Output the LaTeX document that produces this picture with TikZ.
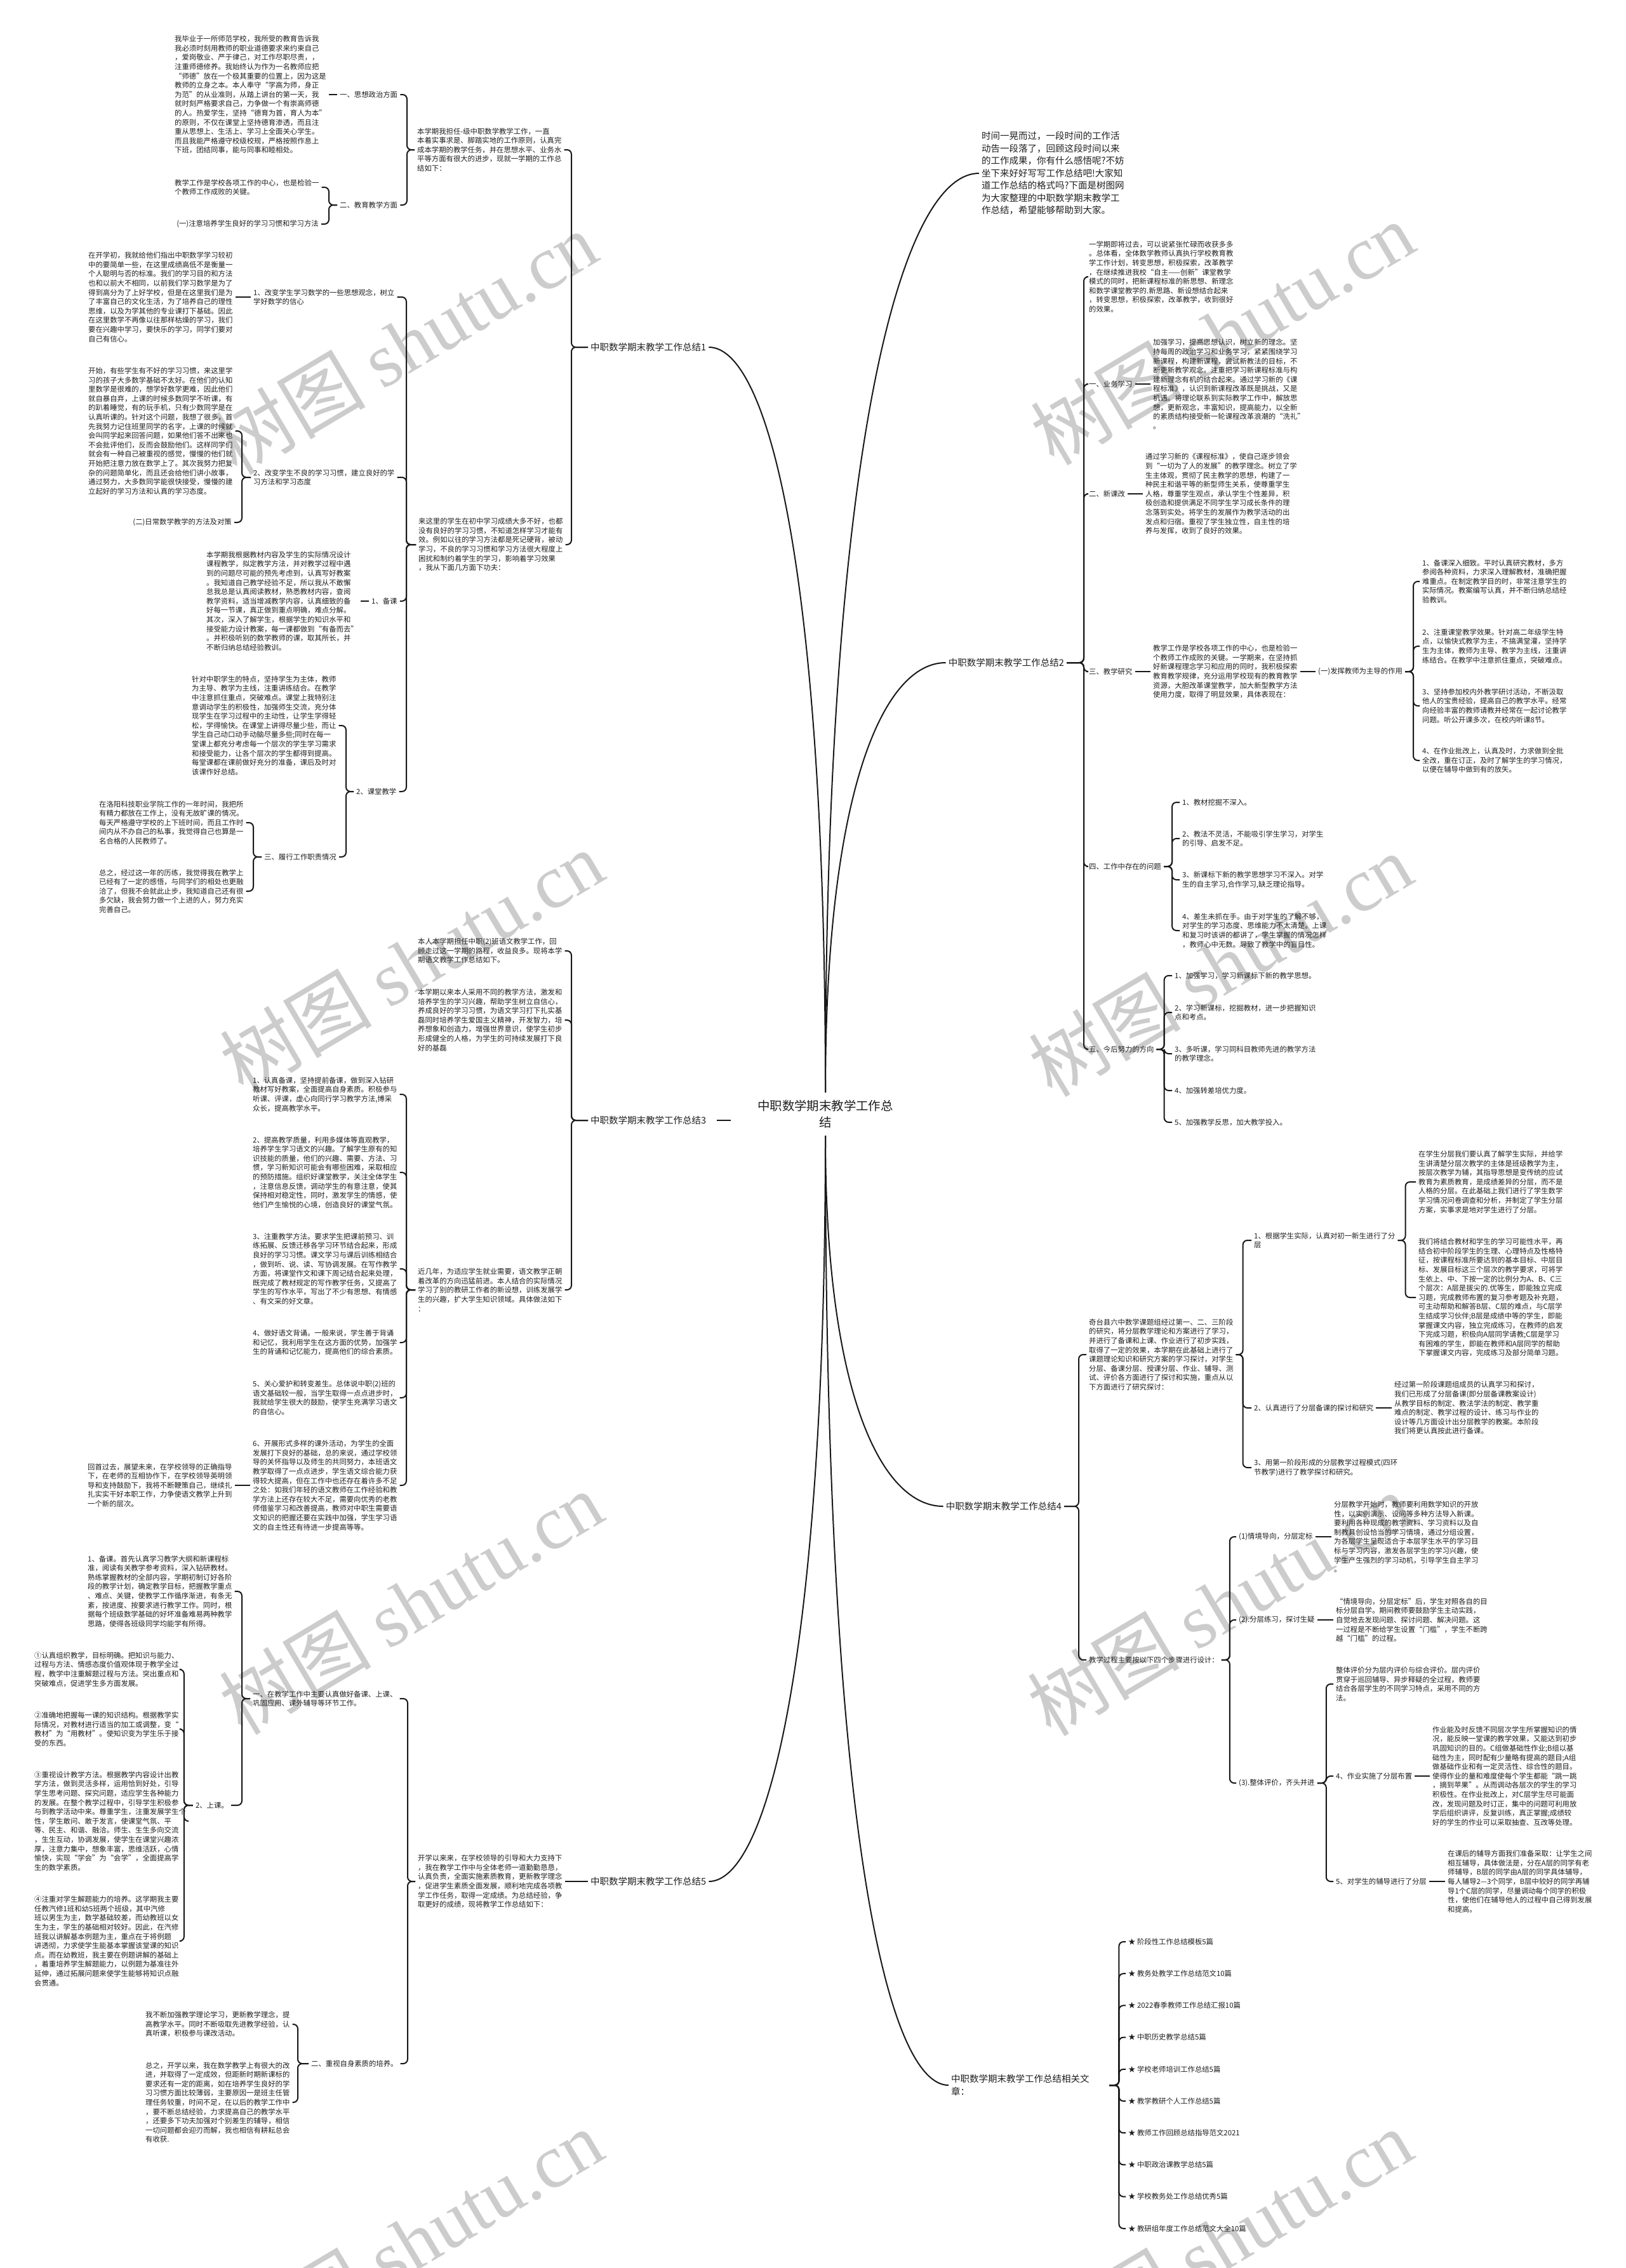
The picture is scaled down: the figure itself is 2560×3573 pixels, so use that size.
\documentclass[tikz,border=0pt]{standalone}
\usepackage{fontspec}
\setmainfont{Noto Sans CJK SC}
\newfontfamily\wmlat{Liberation Serif}
\newcommand\bodyf{\fontsize{11.36}{14.6}\selectfont}
\newcommand\labf{\fontsize{14.5}{19.5}\selectfont}
\newcommand\rootf{\fontsize{19.4}{25.6}\selectfont}
\newcommand\wmf{\fontsize{120}{120}\selectfont}
\newcommand\qL{\makebox[1em][r]{“}}
\newcommand\qR{\makebox[1em][l]{”}}
\tikzset{
  body/.style={font=\bodyf, align=left, inner xsep=4pt, inner ysep=1pt, text=black!88, anchor=west},
  lab/.style={font=\labf, align=left, inner xsep=4pt, inner ysep=1pt, text=black!88, anchor=west},
  conn/.style={draw=black!90, line width=2pt, rounded corners=7pt},
  curve/.style={draw=black!90, line width=2pt},
  wm/.style={text=black!20, rotate=30.7, inner sep=0pt},
}
\begin{document}
\begin{tikzpicture}[x=1pt,y=-1pt]
\fill[white] (0,0) rectangle (2560,3573);
\useasboundingbox (0,0) rectangle (2560,3573);
% watermarks
\foreach \wx/\wy [count=\i] in {638/540,1925/525,648/1515,1922/1520,647/2525,1920/2527,647/3530,1922/3530}
  \node[wm] (wm\i) at (\wx,\wy) {\wmf 树图 {\wmlat shutu.cn}};

% root
\node[font=\rootf, align=center, inner xsep=4pt, inner ysep=12pt, text=black!88] (root) at (1300,1755) {中职数学期末教学工作总\\结};

% ================= branch 1 =================
\node[lab] (b1) at (926,547) {中职数学期末教学工作总结1};
\node[body] (P1) at (653,236) {本学期我担任-级中职数学教学工作，一直\\本着实事求是、脚踏实地的工作原则，认真完\\成本学期的教学任务，并在思想水平、业务水\\平等方面有很大的进步，现就一学期的工作总\\结如下：};
\node[body] (L1a) at (531,149) {一、思想政治方面};
\node[body] (L1b) at (531,323) {二、教育教学方面};
\node[body] (P1a) at (271,149) {我毕业于一所师范学校，我所受的教育告诉我\\我必须时刻用教师的职业道德要求来约束自己\\，爱岗敬业、严于律己，对工作尽职尽责，，\\注重师德修养。我始终认为作为一名教师应把\\\qL 师德\qR 放在一个极其重要的位置上，因为这是\\教师的立身之本。本人奉守\qL 学高为师，身正\\为范\qR 的从业准则，从踏上讲台的第一天，我\\就时刻严格要求自己，力争做一个有崇高师德\\的人。热爱学生，坚持\qL 德育为首，育人为本\qR\\的原则，不仅在课堂上坚持德育渗透，而且注\\重从思想上、生活上、学习上全面关心学生。\\而且我能严格遵守校级校规，严格按照作息上\\下班，团结同事，能与同事和睦相处。};
\node[body] (P1b) at (271,295) {教学工作是学校各项工作的中心，也是检验一\\个教师工作成败的关键。};
\node[body,anchor=east] (L1c) at (506,353) {(一)注意培养学生良好的学习习惯和学习方法};
\node[body] (P2) at (655,858) {来这里的学生在初中学习成绩大多不好，也都\\没有良好的学习习惯，不知道怎样学习才能有\\效。例如以往的学习方法都是死记硬背，被动\\学习，不良的学习习惯和学习方法很大程度上\\困扰和制约着学生的学习，影响着学习效果\\，我从下面几方面下功夫：};
\node[body] (C21) at (395,468) {1、改变学生学习数学的一些思想观念，树立\\学好数学的信心};
\node[body] (C22) at (395,752) {2、改变学生不良的学习习惯，建立良好的学\\习方法和学习态度};
\node[body] (C23) at (581,947) {1、备课};
\node[body] (C24) at (557,1247) {2、课堂教学};
\node[body] (P21) at (135,468) {在开学初，我就给他们指出中职数学学习较初\\中的要简单一些，在这里成绩高低不是衡量一\\个人聪明与否的标准。我们的学习目的和方法\\也和以前大不相同，以前我们学习数学是为了\\得到高分为了上好学校，但是在这里我们是为\\了丰富自己的文化生活，为了培养自己的理性\\思维，以及为学其他的专业课打下基础。因此\\在这里数学不再像以往那样枯燥的学习，我们\\要在兴趣中学习，要快乐的学习，同学们要对\\自己有信心。};
\node[body] (P22) at (135,679) {开始，有些学生有不好的学习习惯，来这里学\\习的孩子大多数学基础不太好。在他们的认知\\里数学是很难的，想学好数学更难，因此他们\\就自暴自弃，上课的时候多数同学不听课，有\\的趴着睡觉，有的玩手机，只有少数同学是在\\认真听课的。针对这个问题，我想了很多，首\\先我努力记住班里同学的名字，上课的时候就\\会叫同学起来回答问题，如果他们答不出来也\\不会批评他们，反而会鼓励他们。这样同学们\\就会有一种自己被重视的感觉，慢慢的他们就\\开始把注意力放在数学上了。其次我努力把复\\杂的问题简单化，而且还会给他们讲小故事，\\通过努力，大多数同学能很快接受，慢慢的建\\立起好的学习方法和认真的学习态度。};
\node[body,anchor=east] (C25) at (369,823) {(二)日常数学教学的方法及对策};
\node[body] (P23) at (321,947) {本学期我根据教材内容及学生的实际情况设计\\课程教学，拟定教学方法，并对教学过程中遇\\到的问题尽可能的预先考虑到，认真写好教案\\。我知道自己教学经验不足，所以我从不敢懈\\怠我总是认真阅读教材，熟悉教材内容，查阅\\教学资料，适当增减教学内容，认真细致的备\\好每一节课，真正做到重点明确，难点分解。\\其次，深入了解学生，根据学生的知识水平和\\接受能力设计教案，每一课都做到\qL 有备而去\qR\\。并积极听别的数学教师的课，取其所长，并\\不断归纳总结经验教训。};
\node[body] (P24) at (298,1143) {针对中职学生的特点，坚持学生为主体，教师\\为主导、教学为主线，注重讲练结合。在教学\\中注意抓住重点，突破难点。课堂上我特别注\\意调动学生的积极性，加强师生交流，充分体\\现学生在学习过程中的主动性，让学生学得轻\\松，学得愉快。在课堂上讲得尽量少些，而让\\学生自己动口动手动脑尽量多些;同时在每一\\堂课上都充分考虑每一个层次的学生学习需求\\和接受能力，让各个层次的学生都得到提高。\\每堂课都在课前做好充分的准备，课后及时对\\该课作好总结。};
\node[body,anchor=east] (C26) at (534,1350) {三、履行工作职责情况};
\node[body] (P26a) at (152,1296) {在洛阳科技职业学院工作的一年时间，我把所\\有精力都放在工作上，没有无故旷课的情况。\\每天严格遵守学校的上下班时间，而且工作时\\间内从不办自己的私事，我觉得自己也算是一\\名合格的人民教师了。};
\node[body] (P26b) at (152,1404) {总之，经过这一年的历练，我觉得我在教学上\\已经有了一定的感悟，与同学们的相处也更融\\洽了，但我不会就此止步，我知道自己还有很\\多欠缺，我会努力做一个上进的人，努力充实\\完善自己。};

\foreach \c in {P1,P2} \draw[conn] (b1.west) -- ++(-26,0) |- (\c.east);
\foreach \c in {L1a,L1b} \draw[conn] (P1.west) -- ++(-12,0) |- (\c.east);
\draw[conn] (L1a.west) -- (P1a.east);
\foreach \c in {P1b,L1c} \draw[conn] (L1b.west) -- ++(-13,0) |- (\c.east);
\foreach \c in {C21,C22,C23,C24} \draw[conn] (P2.west) -- ++(-15,0) |- (\c.east);
\draw[conn] (C21.west) -- (P21.east);
\foreach \c in {P22,C25} \draw[conn] (C22.west) -- ++(-14,0) |- (\c.east);
\draw[conn] (C23.west) -- (P23.east);
\foreach \c in {P24,C26} \draw[conn] (C24.west) -- ++(-12,0) |- (\c.east);
\foreach \c in {P26a,P26b} \draw[conn] (C26.west) -- ++(-13,0) |- (\c.east);

% ================= branch 3 =================
\node[lab] (b3) at (926,1765) {中职数学期末教学工作总结3};
\node[body] (P3a) at (654,1498) {本人本学期担任中职(2)班语文教学工作，回\\顾走过这一学期的路程，收益良多。现将本学\\期语文教学工作总结如下。};
\node[body] (P3b) at (654,1607) {本学期以来本人采用不同的教学方法，激发和\\培养学生的学习兴趣，帮助学生树立自信心，\\养成良好的学习习惯，为语文学习打下扎实基\\磊同时培养学生爱国主义精神，开发智力，培\\养想象和创造力，增强世界意识，使学生初步\\形成健全的人格，为学生的可持续发展打下良\\好的基磊};
\node[body] (P3c) at (654,2032) {近几年，为适应学生就业需要，语文教学正朝\\着改革的方向迅猛前进。本人结合的实际情况\\学习了别的教研工作者的新设想，训练发展学\\生的兴趣，扩大学生知识领域。具体做法如下\\：};
\node[body] (I31) at (394,1724) {1、认真备课，坚持提前备课，做到深入钻研\\教材写好教案，全面提高自身素质。积极参与\\听课、评课，虚心向同行学习教学方法,博采\\众长，提高教学水平。};
\node[body] (I32) at (394,1847) {2、提高教学质量，利用多媒体等直观教学，\\培养学生学习语文的兴趣。了解学生原有的知\\识技能的质量，他们的兴趣、需要、方法、习\\惯，学习新知识可能会有哪些困难，采取相应\\的预防措施。组织好课堂教学，关注全体学生\\，注意信息反馈，调动学生的有意注意，使其\\保持相对稳定性，同时，激发学生的情感，使\\他们产生愉悦的心境，创造良好的课堂气氛。};
\node[body] (I33) at (394,1999) {3、注重教学方法。要求学生把课前预习、训\\练拓展、反馈迁移各学习环节结合起来，形成\\良好的学习习惯。课文学习与课后训练相结合\\，做到听、说、读、写协调发展。在写作教学\\方面，将课堂作文和课下周记结合起来处理，\\既完成了教材规定的写作教学任务，又提高了\\学生的写作水平，写出了不少有思想、有情感\\、有文采的好文章。};
\node[body] (I34) at (394,2115) {4、做好语文背诵。一般来说，学生善于背诵\\和记忆，我利用学生在这方面的优势，加强学\\生的背诵和记忆能力，提高他们的综合素质。};
\node[body] (I35) at (394,2202) {5、关心爱护和转变差生。总体说中职(2)班的\\语文基础较一般，当学生取得一点点进步时，\\我就给学生很大的鼓励，使学生充满学习语文\\的自信心。};
\node[body] (I36) at (394,2340) {6、开展形式多样的课外活动，为学生的全面\\发展打下良好的基础，总的来说，通过学校领\\导的关怀指导以及师生的共同努力，本班语文\\教学取得了一点点进步，学生语文综合能力获\\得较大提高，但在工作中也还存在着许多不足\\之处：如我们年轻的语文教师在工作经验和教\\学方法上还存在较大不足，需要向优秀的老教\\师借鉴学习和改善提高，教师对中职生需要语\\文知识的把握还要在实践中加强，学生学习语\\文的自主性还有待进一步提高等等。};
\node[body] (P36) at (134,2340) {回首过去，展望未来，在学校领导的正确指导\\下，在老师的互相协作下，在学校领导英明领\\导和支持鼓励下，我将不断鞭策自己，继续扎\\扎实实干好本职工作，力争使语文教学上升到\\一个新的层次。};

\draw[conn] ([xshift=13pt]b3.east) -- ++(22,0);
\foreach \c in {P3a,P3b,P3c} \draw[conn] (b3.west) -- ++(-26,0) |- (\c.east);
\foreach \c in {I31,I32,I33,I34,I35,I36} \draw[conn] (P3c.west) -- ++(-14,0) |- (\c.east);
\draw[conn] (I36.west) -- (P36.east);

% ================= branch 5 =================
\node[lab] (b5) at (926,2964) {中职数学期末教学工作总结5};
\node[body] (P5) at (654,2964) {开学以来来，在学校领导的引导和大力支持下\\，我在教学工作中与全体老师一道勤勤恳恳，\\认真负责，全面实施素质教育，更新教学理念\\，促进学生素质全面发展，顺利地完成各项教\\学工作任务，取得一定成绩。为总结经验，争\\取更好的成绩，现将教学工作总结如下：};
\node[body] (C51) at (394,2676) {一、在教学工作中主要认真做好备课、上课、\\巩固应用、课外辅导等环节工作。};
\node[body] (C52) at (486,3251) {二、重视自身素质的培养。};
\node[body] (P51) at (134,2507) {1、备课。首先认真学习教学大纲和新课程标\\准，阅读有关教学参考资料，深入钻研教材。\\熟练掌握教材的全部内容，学期初制订好各阶\\段的教学计划，确定教学目标，把握教学重点\\、难点、关键，使教学工作循序渐进，有条无\\紊，按进度、按要求进行教学工作。同时，根\\据每个班级数学基础的好坏准备难易两种教学\\思路，使得各班级同学均能学有所得。};
\node[body,anchor=east] (C53) at (364,2844) {2、上课。};
\node[body] (Q1) at (50,2630) {①认真组织教学，目标明确。把知识与能力、\\过程与方法、情感态度价值观体现于教学全过\\程，教学中注重解题过程与方法。突出重点和\\突破难点，促进学生多方面发展。};
\node[body] (Q2) at (50,2724) {②准确地把握每一课的知识结构。根据教学实\\际情况，对教材进行适当的加工或调整，变\qL\\教材\qR 为\qL 用教材\qR 。使知识变为学生乐于接\\受的东西。};
\node[body] (Q3) at (50,2869) {③重视设计教学方法。根据教学内容设计出教\\学方法，做到灵活多样，运用恰到好处，引导\\学生思考问题、探究问题，适应学生各种能力\\的发展。在整个教学过程中，引导学生积极参\\与到教学活动中来。尊重学生，注重发展学生个\\性，学生敢问、敢于发言，使课堂气氛、平\\等、民主、和谐、融洽。师生、生生多向交流\\，生生互动，协调发展，使学生在课堂兴趣浓\\厚，注意力集中，想象丰富，思维活跃，心情\\愉快，实现\qL 学会\qR 为\qL 会学\qR ，全面提高学\\生的数学素质。};
\node[body] (Q4) at (50,3058) {④注重对学生解题能力的培养。这学期我主要\\任教汽修1班和幼5班两个班级，其中汽修\\班以男生为主，数学基础较差，而幼教班以女\\生为主，学生的基础相对较好。因此，在汽修\\班我以讲解基本例题为主，重点在于将例题\\讲透彻，力求使学生能基本掌握该堂课的知识\\点。而在幼教班，我主要在例题讲解的基础上\\，着重培养学生解题能力，以例题为基准往外\\延伸，通过拓展问题来使学生能够将知识点融\\会贯通。};
\node[body] (P52a) at (225,3189) {我不断加强教学理论学习，更新教学理念，提\\高教学水平。同时不断吸取先进教学经验，认\\真听课，积极参与课改活动。};
\node[body] (P52b) at (225,3312) {总之，开学以来，我在数学教学上有很大的改\\进，并取得了一定成效，但距新时期新课标的\\要求还有一定的距离，如在培养学生良好的学\\习习惯方面比较薄弱，主要原因一是班主任管\\理任务较重，时间不足，在以后的教学工作中\\，要不断总结经验，力求提高自己的教学水平\\，还要多下功夫加强对个别差生的辅导，相信\\一切问题都会迎刃而解，我也相信有耕耘总会\\有收获.};

\draw[conn] (b5.west) -- (P5.east);
\foreach \c in {C51,C52} \draw[conn] (P5.west) -- ++(-12,0) |- (\c.east);
\foreach \c in {P51,C53} \draw[conn] (C51.west) -- ++(-13,0) |- (\c.east);
\foreach \c in {Q1,Q2,Q3,Q4} \draw[conn] (C53.west) -- ++(-14,0) |- (\c.east);
\foreach \c in {P52a,P52b} \draw[conn] (C52.west) -- ++(-17,0) |- (\c.east);

% ================= intro =================
\node[font=\labf, align=left, inner xsep=4pt, inner ysep=1pt, text=black!88, anchor=west] (intro) at (1542,273) {时间一晃而过，一段时间的工作活\\动告一段落了，回顾这段时间以来\\的工作成果，你有什么感悟呢?不妨\\坐下来好好写写工作总结吧!大家知\\道工作总结的格式吗?下面是树图网\\为大家整理的中职数学期末教学工\\作总结，希望能够帮助到大家。};

% ================= branch 2 =================
\node[lab,anchor=east] (b2) at (1680,1044) {中职数学期末教学工作总结2};
\node[body] (P2a) at (1711,436) {一学期即将过去，可以说紧张忙碌而收获多多\\。总体看，全体数学教师认真执行学校教育教\\学工作计划，转变思想，积极探索，改革教学\\，在继续推进我校\qL 自主——创新\qR 课堂教学\\模式的同时，把新课程标准的新思想、新理念\\和数学课堂教学的.新思路、新设想结合起来\\，转变思想，积极探索，改革教学，收到很好\\的效果。};
\node[body] (R1) at (1711,605) {一、业务学习};
\node[body] (R1p) at (1812,605) {加强学习，提高思想认识，树立新的理念。坚\\持每周的政治学习和业务学习，紧紧围绕学习\\新课程，构建新课程，尝试新教法的目标，不\\断更新教学观念。注重把学习新课程标准与构\\建新理念有机的结合起来。通过学习新的《课\\程标准》，认识到新课程改革既是挑战，又是\\机遇。将理论联系到实际教学工作中，解放思\\想，更新观念，丰富知识，提高能力，以全新\\的素质结构接受新一轮课程改革浪潮的\qL 洗礼\qR\\。};
\node[body] (R2) at (1711,778) {二、新课改};
\node[body] (R2p) at (1800,778) {通过学习新的《课程标准》，使自己逐步领会\\到\qL 一切为了人的发展\qR 的教学理念。树立了学\\生主体观，贯彻了民主教学的思想，构建了一\\种民主和谐平等的新型师生关系，使尊重学生\\人格，尊重学生观点，承认学生个性差异，积\\极创造和提供满足不同学生学习成长条件的理\\念落到实处。将学生的发展作为教学活动的出\\发点和归宿。重视了学生独立性，自主性的培\\养与发挥，收到了良好的效果。};
\node[body] (R3) at (1711,1058) {三、教学研究};
\node[body] (R3p) at (1812,1058) {教学工作是学校各项工作的中心，也是检验一\\个教师工作成败的关键。一学期来，在坚持抓\\好新课程理念学习和应用的同时，我积极探索\\教育教学规律，充分运用学校现有的教育教学\\资源，大胆改革课堂教学，加大新型教学方法\\使用力度，取得了明显效果，具体表现在：};
\node[body] (R3q) at (2072,1058) {(一)发挥教师为主导的作用};
\node[body] (R3i1) at (2236,916) {1、备课深入细致。平时认真研究教材，多方\\参阅各种资料，力求深入理解教材，准确把握\\难重点。在制定教学目的时，非常注意学生的\\实际情况。教案编写认真，并不断归纳总结经\\验教训。};
\node[body] (R3i2) at (2236,1018) {2、注重课堂教学效果。针对高二年级学生特\\点，以愉快式教学为主，不搞满堂灌，坚持学\\生为主体，教师为主导、教学为主线，注重讲\\练结合。在教学中注意抓住重点，突破难点。};
\node[body] (R3i3) at (2236,1112) {3、坚持参加校内外教学研讨活动，不断汲取\\他人的宝贵经验，提高自己的教学水平。经常\\向经验丰富的教师请教并经常在一起讨论教学\\问题。听公开课多次，在校内听课8节。};
\node[body] (R3i4) at (2236,1198) {4、在作业批改上，认真及时，力求做到全批\\全改，重在订正，及时了解学生的学习情况，\\以便在辅导中做到有的放矢。};
\node[body] (R4) at (1711,1365) {四、工作中存在的问题};
\node[body] (R4i1) at (1858,1264) {1、教材挖掘不深入。};
\node[body] (R4i2) at (1858,1321) {2、教法不灵活，不能吸引学生学习，对学生\\的引导、启发不足。};
\node[body] (R4i3) at (1858,1386) {3、新课标下新的教学思想学习不深入。对学\\生的自主学习,合作学习,缺乏理论指导。};
\node[body] (R4i4) at (1858,1466) {4、差生未抓在手。由于对学生的了解不够，\\对学生的学习态度、思维能力不太清楚。上课\\和复习时该讲的都讲了，学生掌握的情况怎样\\，教师心中无数。导致了教学中的盲目性。};
\node[body] (R5) at (1711,1653) {五、今后努力的方向};
\node[body] (R5i1) at (1846,1537) {1、加强学习，学习新课标下新的教学思想。};
\node[body] (R5i2) at (1846,1595) {2、学习新课标，挖掘教材，进一步把握知识\\点和考点。};
\node[body] (R5i3) at (1846,1660) {3、多听课，学习同科目教师先进的教学方法\\的教学理念。};
\node[body] (R5i4) at (1846,1718) {4、加强转差培优力度。};
\node[body] (R5i5) at (1846,1768) {5、加强教学反思，加大教学投入。};

\foreach \c in {P2a,R1,R2,R3,R4,R5} \draw[conn] (b2.east) -- ++(27,0) |- (\c.west);
\draw[conn] (R1.east) -- (R1p.west);
\draw[conn] (R2.east) -- (R2p.west);
\draw[conn] (R3.east) -- (R3p.west);
\draw[conn] (R3p.east) -- (R3q.west);
\foreach \c in {R3i1,R3i2,R3i3,R3i4} \draw[conn] (R3q.east) -- ++(13,0) |- (\c.west);
\foreach \c in {R4i1,R4i2,R4i3,R4i4} \draw[conn] (R4.east) -- ++(13,0) |- (\c.west);
\foreach \c in {R5i1,R5i2,R5i3,R5i4,R5i5} \draw[conn] (R5.east) -- ++(12,0) |- (\c.west);

% ================= branch 4 =================
\node[lab,anchor=east] (b4) at (1676,2373) {中职数学期末教学工作总结4};
\node[body] (P4a) at (1711,2134) {奇台县六中数学课题组经过第一、二、三阶段\\的研究，将分层教学理论和方案进行了学习，\\并进行了备课和上课、作业进行了初步实践，\\取得了一定的效果，本学期在此基础上进行了\\课题理论知识和研究方案的学习探讨，对学生\\分层、备课分层、授课分层、作业、辅导、测\\试、评价各方面进行了探讨和实施，重点从以\\下方面进行了研究探讨：};
\node[body] (S1) at (1971,1954) {1、根据学生实际，认真对初一新生进行了分\\层};
\node[body] (S1a) at (2230,1862) {在学生分层我们要认真了解学生实际，并给学\\生讲清楚分层次教学的主体是班级教学为主，\\按层次教学为辅，其指导思想是变传统的应试\\教育为素质教育，是成绩差异的分层，而不是\\人格的分层。在此基础上我们进行了学生数学\\学习情况问卷调查和分析，并制定了学生分层\\方案，实事求是地对学生进行了分层。};
\node[body] (S1b) at (2230,2044) {我们将结合教材和学生的学习可能性水平，再\\结合初中阶段学生的生理、心理特点及性格特\\征，按课程标准所要达到的基本目标、中层目\\标、发展目标这三个层次的教学要求，可将学\\生依上、中、下按一定的比例分为A、B、C三\\个层次：A层是拔尖的.优等生，即能独立完成\\习题，完成教师布置的复习参考题及补充题，\\可主动帮助和解答B层、C层的难点，与C层学\\生结成学习伙伴;B层是成绩中等的学生，即能\\掌握课文内容，独立完成练习，在教师的启发\\下完成习题，积极向A层同学请教;C层是学习\\有困难的学生，即能在教师和A层同学的帮助\\下掌握课文内容，完成练习及部分简单习题。};
\node[body] (S2) at (1971,2218) {2、认真进行了分层备课的探讨和研究};
\node[body] (S2a) at (2192,2218) {经过第一阶段课题组成员的认真学习和探讨，\\我们已形成了分层备课(即分层备课教案设计)\\从教学目标的制定、教法学法的制定、教学重\\难点的制定、教学过程的设计、练习与作业的\\设计等几方面设计出分层教学的教案。本阶段\\我们将更认真按此进行备课。};
\node[body] (S3) at (1971,2312) {3、用第一阶段形成的分层教学过程模式(四环\\节教学)进行了教学探讨和研究。};
\node[body] (P4b) at (1711,2615) {教学过程主要按以下四个步骤进行设计：};
\node[body] (T1) at (1947,2421) {(1)情境导向，分层定标};
\node[body] (T1p) at (2097,2421) {分层教学开始时，教师要利用数学知识的开放\\性，以实例演示、设问等多种方法导入新课。\\要利用各种现成的教学资料、学习资料以及自\\制教具创设恰当的学习情境，通过分组设置，\\为各层学生呈现适合于本层学生水平的学习目\\标与学习内容，激发各层学生的学习兴趣，使\\学生产生强烈的学习动机，引导学生自主学习\\。};
\node[body] (T2) at (1947,2552) {(2).分层练习，探讨生疑};
\node[body] (T2p) at (2100,2552) {\qL 情境导向，分层定标\qR 后，学生对照各自的目\\标分层自学。期间教师要鼓励学生主动实践，\\自觉地去发现问题、探讨问题、解决问题。这\\一过程是不断给学生设置\qL 门槛\qR ，学生不断跨\\越\qL 门槛\qR 的过程。};
\node[body] (T3) at (1947,2809) {(3).整体评价，齐头并进};
\node[body] (T3a) at (2100,2653) {整体评价分为层内评价与综合评价。层内评价\\贯穿于巡回辅导、异步释疑的全过程，教师要\\结合各层学生的不同学习特点，采用不同的方\\法。};
\node[body] (T3b) at (2100,2798) {4、作业实施了分层布置};
\node[body] (T3bp) at (2252,2798) {作业能及时反馈不同层次学生所掌握知识的情\\况，能反映一堂课的教学效果，又能达到初步\\巩固知识的目的。C组做基础性作业;B组以基\\础性为主，同时配有少量略有提高的题目;A组\\做基础作业和有一定灵活性、综合性的题目。\\使得作业的量和难度使每个学生都能\qL 跳一跳\\，摘到苹果\qR 。从而调动各层次的学生的学习\\积极性。在作业批改上，对C层学生尽可能面\\改，发现问题及时订正，集中的问题可利用放\\学后组织讲评，反复训练，真正掌握;成绩较\\好的学生的作业可以采取抽查、互改等处理。};
\node[body] (T3c) at (2100,2964) {5、对学生的辅导进行了分层};
\node[body] (T3cp) at (2276,2964) {在课后的辅导方面我们准备采取：让学生之间\\相互辅导，具体做法是，分在A层的同学有老\\师辅导，B层的同学由A层的同学具体辅导，\\每人辅导2—3个同学，B层中较好的同学再辅\\导1个C层的同学，尽量调动每个同学的积极\\性，使他们在辅导他人的过程中自己得到发展\\和提高。};

\foreach \c in {P4a,P4b} \draw[conn] (b4.east) -- ++(23,0) |- (\c.west);
\foreach \c in {S1,S2,S3} \draw[conn] (P4a.east) -- ++(11,0) |- (\c.west);
\foreach \c in {S1a,S1b} \draw[conn] (S1.east) -- ++(12,0) |- (\c.west);
\draw[conn] (S2.east) -- (S2a.west);
\foreach \c in {T1,T2,T3} \draw[conn] (P4b.east) -- ++(13,0) |- (\c.west);
\draw[conn] (T1.east) -- (T1p.west);
\draw[conn] (T2.east) -- (T2p.west);
\foreach \c in {T3a,T3b,T3c} \draw[conn] (T3.east) -- ++(14,0) |- (\c.west);
\draw[conn] (T3b.east) -- (T3bp.west);
\draw[conn] (T3c.east) -- (T3cp.west);

% ================= related =================
\node[lab, text width=245pt] (rel) at (1494,3285) {中职数学期末教学工作总结相关文\\章：};
\foreach \t [count=\i] in {阶段性工作总结模板5篇,教务处教学工作总结范文10篇,2022春季教师工作总结汇报10篇,中职历史教学总结5篇,学校老师培训工作总结5篇,教学教研个人工作总结5篇,教师工作回顾总结指导范文2021,中职政治课教学总结5篇,学校教务处工作总结优秀5篇,教研组年度工作总结范文大全10篇}{
  \node[body] (ra\i) at (1773,3059+50.2*\i-50.2) {★ \t};
  \draw[conn] (rel.east) -- ++(15,0) |- (ra\i.west);
}

% ================= root curves =================
\draw[curve] (root.north) .. controls (1300,900) and (1210,547) .. (b1.east);
\draw[curve] (root.north) .. controls (1300,1250) and (1390,1044) .. (b2.west);
\draw[curve] (root.north) .. controls (1300,700) and (1420,273) .. (intro.west);
\draw[curve] (root.south) .. controls (1300,2600) and (1210,2964) .. (b5.east);
\draw[curve] (root.south) .. controls (1300,2200) and (1390,2373) .. (b4.west);
\draw[curve] (root.south) .. controls (1300,2900) and (1400,3285) .. (rel.west);
\end{tikzpicture}
\end{document}
